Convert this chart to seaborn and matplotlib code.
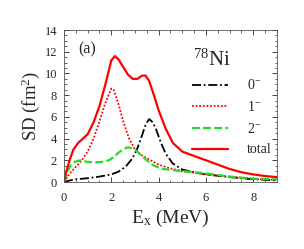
"""Spin-dipole strength distribution in 78Ni."""

import numpy as np
import pandas as pd

import seaborn as sns
import matplotlib
matplotlib.use('Agg')
import matplotlib.pyplot as plt
from matplotlib.ticker import MultipleLocator

###################################################################################################
###################################################################################################

# Excitation energies (MeV) and strength (fm^2)
ex_0m = [0.0, 0.25, 0.5, 1.0, 1.5, 2.0, 2.3, 2.6, 2.9, 3.1, 3.3, 3.45, 3.6, 3.75, 3.9, 4.1, 4.3,
         4.6, 5.0, 5.5, 6.0, 7.0, 8.0, 9.0]
sd_0m = [0.0, 0.15, 0.25, 0.35, 0.5, 0.7, 0.95, 1.4, 2.2, 3.1, 4.3, 5.3, 5.8, 5.5, 4.8, 3.6, 2.6,
         1.7, 1.15, 0.9, 0.7, 0.45, 0.25, 0.15]

ex_1m = [0.0, 0.25, 0.5, 0.75, 1.0, 1.25, 1.5, 1.75, 2.0, 2.1, 2.3, 2.5, 2.75, 3.0, 3.25, 3.5,
         4.0, 4.5, 5.0, 6.0, 7.0, 8.0, 9.0]
sd_1m = [0.0, 0.8, 1.4, 2.0, 2.8, 4.0, 5.6, 7.3, 8.6, 8.5, 7.2, 5.6, 4.0, 3.0, 2.5, 2.2,
         1.6, 1.25, 1.0, 0.7, 0.5, 0.3, 0.2]

ex_2m = [0.0, 0.15, 0.3, 0.5, 0.7, 1.0, 1.3, 1.6, 1.9, 2.1, 2.3, 2.5, 2.7, 2.9, 3.1, 3.3, 3.5,
         3.8, 4.2, 5.0, 6.0, 7.0, 8.0, 9.0]
sd_2m = [0.0, 1.0, 1.6, 1.9, 2.0, 1.85, 1.8, 1.85, 2.0, 2.3, 2.7, 3.0, 3.2, 3.1, 2.8, 2.4, 2.0,
         1.5, 1.2, 1.0, 0.8, 0.5, 0.3, 0.25]

ex_tot = [0.0, 0.1, 0.25, 0.4, 0.6, 0.8, 1.0, 1.25, 1.5, 1.75, 2.0, 2.15, 2.3, 2.5, 2.7, 2.9,
          3.1, 3.3, 3.45, 3.6, 3.8, 4.0, 4.3, 4.6, 5.0, 5.5, 6.0, 6.5, 7.0, 7.5, 8.0, 8.5, 9.0]
sd_tot = [0.0, 1.0, 2.1, 3.0, 3.6, 4.0, 4.4, 5.5, 7.0, 9.0, 11.2, 11.6, 11.3, 10.6, 9.9, 9.5,
          9.5, 9.8, 9.8, 9.3, 8.0, 6.6, 4.9, 3.6, 2.8, 2.4, 2.0, 1.6, 1.2, 0.9, 0.7, 0.55, 0.45]

labels = ['0$^{-}$', '1$^{-}$', '2$^{-}$', 'total']

###################################################################################################
###################################################################################################

sns.set_style('ticks')
plt.rcParams['font.family'] = ['Liberation Serif', 'DejaVu Serif']
plt.rcParams['mathtext.fontset'] = 'custom'
plt.rcParams['mathtext.rm'] = 'Liberation Serif'
plt.rcParams['mathtext.it'] = 'Liberation Serif:italic'

fig = plt.figure(figsize=[3.04, 2.49], dpi=100)
ax = fig.add_axes([0.2105, 0.269, 0.7005, 0.6105])

series = [(ex_0m, sd_0m, 'black', (0, (5, 1.5, 1, 1.5)), 1.3),
          (ex_1m, sd_1m, 'red', (0, (1, 1)), 1.3),
          (ex_2m, sd_2m, '#22dd22', (0, (3.5, 1.5)), 1.6),
          (ex_tot, sd_tot, 'red', '-', 1.6)]

for (xx, yy, col, ls, lw), lab in zip(series, labels):
    df = pd.DataFrame({'ex': xx, 'sd': yy})
    sns.lineplot(data=df, x='ex', y='sd', ax=ax, color=col, linestyle=ls, linewidth=lw,
                 label=lab, sort=False)

ax.set_xlim([0, 9])
ax.set_ylim([0, 14])
ax.xaxis.set_major_locator(MultipleLocator(2))
ax.xaxis.set_minor_locator(MultipleLocator(0.5))
ax.yaxis.set_major_locator(MultipleLocator(2))
ax.yaxis.set_minor_locator(MultipleLocator(0.5))
ax.tick_params(which='both', direction='in', top=True, right=True, labelsize=9)
ax.tick_params(axis='x', pad=7)
ax.tick_params(axis='y', pad=5)
ax.tick_params(which='major', length=3.5, width=0.6)
ax.tick_params(which='minor', length=1.8, width=0.5)
for sp in ax.spines.values():
    sp.set_linewidth(0.6)
    sp.set_color('#555555')

# Titles & Labels
ax.set_xlabel('E$_{\\mathrm{x}}$ (MeV)', fontsize=14, labelpad=3)
ax.set_ylabel('SD (fm$^{2}$)', fontsize=13.5, labelpad=2)
ax.text(0.065, 0.875, '(a)', transform=ax.transAxes, fontsize=11.5, va='center', ha='left')
ax.text(0.605, 0.80, '$^{78}$Ni', transform=ax.transAxes, fontsize=15, va='center', ha='left')

ax.legend(loc='center left', bbox_to_anchor=(0.6, 0.425), frameon=False, fontsize=10,
          handlelength=2.6, handletextpad=1.4, labelspacing=0.55, borderaxespad=0,
          borderpad=0)

fig.savefig('out.png', dpi=100)
